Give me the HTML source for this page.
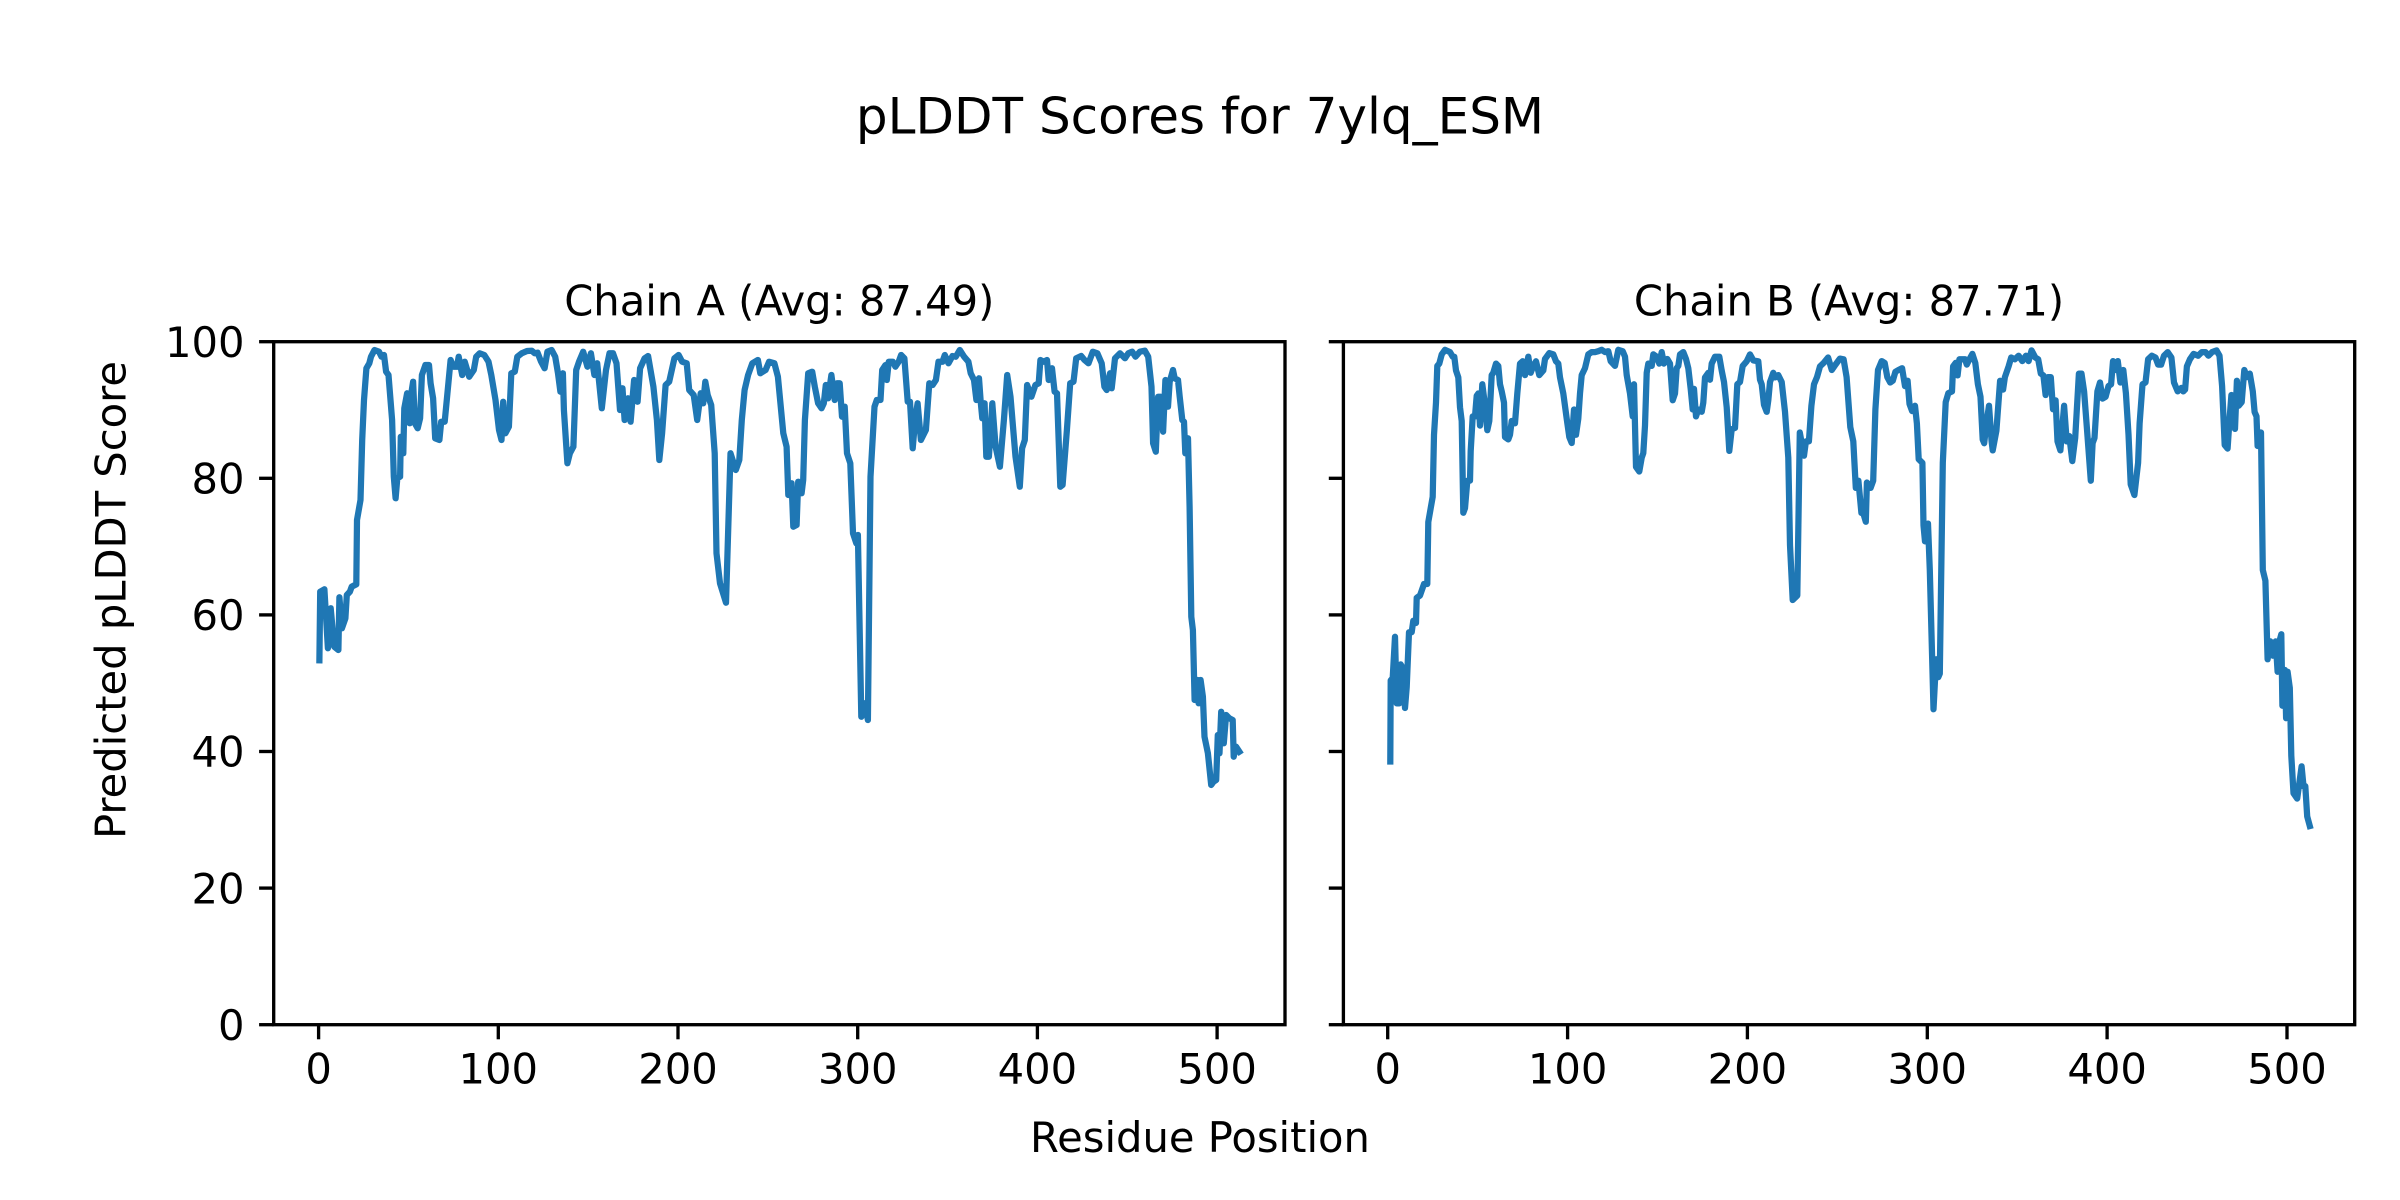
<!DOCTYPE html>
<html>
<head>
<meta charset="utf-8">
<style>
html,body{margin:0;padding:0;background:#fff;}
svg{display:block;}
text{font-family:"DejaVu Sans","Liberation Sans",sans-serif;fill:#000;}
</style>
</head>
<body>
<svg width="2400" height="1200" viewBox="0 0 2400 1200" xmlns="http://www.w3.org/2000/svg">
<rect x="0" y="0" width="2400" height="1200" fill="#fff"/>

<!-- Suptitle -->
<text x="1200" y="133.3" font-size="50" text-anchor="middle">pLDDT Scores for 7ylq_ESM</text>

<!-- Subplot titles -->
<text x="779.3" y="315.7" font-size="41.67" text-anchor="middle">Chain A (Avg: 87.49)</text>
<text x="1849" y="315.7" font-size="41.67" text-anchor="middle">Chain B (Avg: 87.71)</text>

<!-- Series Chain A -->
<polyline fill="none" stroke="#1f77b4" stroke-width="6.25" stroke-linejoin="round" stroke-linecap="square" points="319.4,660.3 320.2,591.7 324.4,589.3 327.9,648.3 330.7,608.3 334.2,646.7 338.4,650 339.4,597.3 341.9,628.3 345.4,618.3 346.8,595 349.9,591.7 351.7,586.7 356.3,584.3 357,520 360.5,500 362.2,440 364,400 366.4,368.3 369.3,363.3 371,356.7 374.5,350 379,351.7 381.5,356.7 384,355 386.1,371.7 388.5,375 392.1,420 393.8,476.7 395.6,498.3 397.3,478.3 400.1,476.7 400.8,436.7 403.3,453.3 404.3,408.3 407.1,393.3 409.6,423.3 411.3,393.3 413.1,381.7 414.9,423.3 417.7,428.3 420.1,418.3 421.9,375 425.4,365 429,365 430.6,383.3 433.1,398.3 435.2,438.3 439.4,440 441.2,421.7 444.7,421.7 447.1,396.7 450.6,360 453.4,366.7 457,366.7 458.7,356.7 462.2,375 464.7,361.7 469.2,376.7 473.8,370 476.2,356.7 479.7,353.3 484.3,355 488.5,361.7 491.3,375 495.5,400 499,430 501.5,440 503.2,401.7 505.4,433.3 508.9,426.7 511.3,373.3 514.8,371.7 517.3,356.7 521.8,353.3 527.1,351 531.7,350.7 534.8,353.3 537.6,352.7 541.1,361.7 544.6,368.3 547.4,351.7 551.6,350 555.2,356.7 558,373.3 560.4,391.7 562.9,373.3 563.9,410 567.4,463.3 569.9,453.3 573.4,446.7 576.2,370 579,361.7 583.2,351.7 587.4,366.7 590.9,353.3 594.4,375 597.2,363.3 601.8,408.3 606,370 609.5,353.3 613,353.3 616.5,363.3 620,410 622.5,388.3 624.6,420 628.1,398.3 630.6,421.7 634.1,380 637.6,401.7 640.1,368.3 644.6,358.3 648.1,356 653.4,386.7 656.9,420 659.3,460 662.1,433.3 665.6,385 669.2,381.7 674.4,358.3 678.6,355 682.1,361.7 686.7,363.3 689.2,390 693.7,395 697.2,420 700.7,393.3 703.2,403.3 705.3,381.7 707.7,395 711.2,405 714.7,453.3 716.5,553.3 720,583.3 726,602.7 730.5,453.3 735.8,470 739.3,460 741.8,420 744.6,390 748.1,375 752.3,363.3 757.9,360 760.3,373.3 765.6,370 769.1,361.7 774.4,363.3 777.9,376.7 783.3,433.3 786.6,446.7 788.3,495 791.6,483.3 793.3,526.7 796.6,525 798.2,481.7 801.6,493.3 803.2,480 804.9,420 808.2,373.3 812.2,371.7 814.8,386.7 818.1,403.3 821.5,408.3 823.8,403.3 825.8,385 828.1,398.3 831.4,375 834.7,400 837,383.3 839.7,383.3 842,416.7 844.7,406.7 847,453.3 850.3,463.3 853,533.3 856.3,543.3 857.9,535 861.3,716.7 864.6,703.3 867.9,720 870.5,476.7 874.5,406.7 876.8,400 880.5,400 882.2,370 885.5,365 886.8,380 888.8,361.7 892.8,361.7 895.4,366.7 898.7,361.7 901.1,355 904.4,358.3 907.7,401.7 910,401.7 912.7,448.3 915.3,418.3 917.6,403.3 920.9,440 925.9,430 929.3,383.3 932.6,385 935.9,380 938.5,361.7 942.5,361.7 944.8,355 948.5,363.3 952.5,356 955.8,356.7 959.8,350 964.1,356.7 968.4,361.7 970.7,373.3 974,380 976.4,400 979,378.3 980.7,401.7 982.3,418.3 984.6,403.3 986.3,456.7 988.9,456.7 992.3,403.3 995.6,446.7 999.9,466.7 1003.9,420 1007.2,375 1010.5,396.7 1015.5,456.7 1019.8,486.7 1022.1,448.3 1024.8,440 1027.1,385 1031.4,396.7 1035.4,385 1038.7,383.3 1040.4,360 1043.7,361.7 1047,360 1048.7,380 1052,368.3 1054.6,391.7 1057,393.3 1060.3,486.7 1062.6,485 1066.9,430 1070.2,383.3 1073.5,381.7 1076.2,358.3 1081.2,356 1084.5,360 1088.5,363.3 1092.8,351.7 1097.4,353.3 1101.7,363.3 1104.4,386.7 1106.7,390 1110,373.3 1111.7,388.3 1115,358.3 1120,353.3 1125,358.3 1128.3,353.3 1132.2,351.7 1135.5,356.7 1139.9,351.7 1144.8,350.7 1148.2,356.7 1151.5,386.7 1153.1,443.3 1155.8,451.7 1158.1,396.7 1160.8,396.7 1163.1,431.7 1165.4,380 1168,406.7 1169.7,381.7 1173,370 1174.7,378.3 1178,380 1179.7,396.7 1182.3,420 1184,421.7 1185.3,453.3 1188,438.3 1189.6,506.7 1191.3,616.7 1192.9,630 1194.6,700 1197.3,680 1198.6,703.3 1200.6,680 1202.9,696.7 1204.5,736.7 1207.9,753.3 1211.2,785 1213.5,781.7 1216.2,780 1217.8,735 1219.5,753.3 1221.2,711.7 1223.8,743.3 1226.1,715 1229.4,718.3 1232.7,720 1233.7,756.7 1236.1,746.7 1239.4,751.7"/>

<!-- Series Chain B -->
<polyline fill="none" stroke="#1f77b4" stroke-width="6.25" stroke-linejoin="round" stroke-linecap="square" points="1390.3,761.5 1390.7,680.4 1392.7,678.1 1395,636.8 1396.7,703.4 1399.3,703.4 1400.7,664.4 1403.3,668.9 1405,708 1406.7,687.3 1409,632.2 1411.7,632.2 1413.3,620.7 1416,623 1416.7,597.8 1420,595.5 1424,584 1427.3,584 1428.3,522 1430.7,508.2 1432.7,496.8 1434,434.8 1436,402.6 1437.3,365.9 1439.3,363.6 1441.7,354.4 1445,349.8 1450,352.1 1452.7,356.7 1454.3,356.7 1456,370.5 1458.3,377.4 1460,407.2 1461.7,421 1463.3,512.8 1465,508.2 1467.3,480.7 1470,480.7 1470.7,450.9 1472.7,416.4 1475,416.4 1476.7,395.8 1478.3,393.5 1480,425.6 1482.3,384.3 1485,405 1487.3,430.2 1489.3,421 1491.7,375.1 1493.3,372.8 1496,363.6 1498.3,365.9 1500,384.3 1501.7,391.2 1504,402.6 1505,437.1 1508.3,439.4 1510,434.8 1511.7,421 1515,423.3 1517.3,393.5 1520,363.6 1522.7,361.3 1525,375.1 1528.3,356.7 1530.7,372.8 1533.3,365.9 1536,361.3 1539.3,375.1 1543.3,370.5 1545,359 1549.3,353.1 1553.3,354.4 1556,361.3 1558.3,363.6 1560,377.4 1563.3,393.5 1566.7,418.7 1569.3,437.1 1571.7,443 1574,409.5 1576,434.8 1578.3,418.7 1580,393.5 1581.7,375.1 1585,368.2 1588.3,354.4 1591.7,352.1 1595,352.1 1598.3,351.2 1601.7,349.8 1605,352.1 1608.3,351.2 1610.7,361.3 1615,365.9 1618.3,349.8 1622.7,351.2 1625,356.7 1626.7,375.1 1630,393.5 1632.7,416.4 1634,384.3 1636,466.9 1639.3,471.5 1641.7,457.7 1643.3,453.1 1645,425.6 1646.7,372.8 1648.3,363.6 1651.7,365.9 1653.3,354.4 1656.7,356.7 1659.3,363.6 1661.7,352.1 1664,363.6 1667.3,359 1670,363.6 1672.7,400.3 1675,393.5 1676.7,368.2 1678.3,365.9 1680,354.4 1683.3,352.1 1686,359 1688.3,368.2 1690.7,388.9 1692.7,409.5 1694,388.9 1696,416.4 1698.3,409.5 1701.7,411.8 1703.3,402.6 1705,377.4 1708.3,372.8 1710,379.7 1711.7,363.6 1715,356.7 1719.3,356.7 1721.7,370.5 1724,382 1726.7,407.2 1729.3,450.9 1731.7,429.3 1735,427.9 1737.3,384.3 1740,382 1742.7,365.9 1746.7,361.3 1750,354.4 1753.3,360.4 1758.3,361.3 1760,379.7 1761.7,384.3 1764,404.9 1766.7,411.8 1768.3,400.3 1770,382 1773.3,372.8 1775,377.4 1778.3,375.1 1781.7,382 1785,411.8 1788.3,457.7 1790,545 1792.7,600 1795,597.8 1797.3,595.5 1799.8,432.5 1804,455.7 1805.9,441.4 1808.9,441.4 1811.4,405.7 1814,384.3 1817,377.1 1820,366.4 1823.7,362.9 1828.1,357.5 1831.8,370 1835.5,364.6 1839.9,358.6 1843.6,359.3 1846.6,377.1 1850.3,427.1 1853.3,441.4 1855.8,487.9 1858.4,480.7 1861.4,512.9 1863.2,512.9 1865.8,521.8 1866.9,482.5 1870.6,487.9 1873.2,480.7 1875.4,409.3 1878,370 1881.7,361.1 1884.7,362.9 1887.3,377.1 1890.2,382.5 1892.8,380.7 1895.4,371.8 1898.4,370 1902.1,368.2 1905,386.1 1907.6,380.7 1909.5,403.9 1912.1,411.1 1915,405.7 1916.9,423.6 1918.7,459.3 1922.4,462.9 1923.5,525.4 1925,541.4 1928,523.6 1929.8,570 1933.5,709.3 1936.1,659.3 1938.3,677.1 1939.8,673.6 1942.8,462.9 1945.7,402.1 1948.3,393.2 1952,391.4 1953.1,366.4 1955.7,362.9 1957.6,375.4 1959.4,359.3 1965,359.3 1966.8,364.6 1969.4,359.3 1972.4,353.9 1975.3,362.9 1977.9,384.3 1980.5,396.8 1982.7,439.6 1984.2,443.2 1986.4,423.6 1989,405.7 1991.6,441.4 1992.7,450.4 1996.4,430.7 2000.1,380.7 2003.1,389.6 2004.9,377.1 2008.6,366.4 2011.2,357.5 2014.9,359.3 2018.6,355.7 2022.3,361.1 2026,355.7 2028.6,361.1 2031.6,350.4 2035.3,357.5 2038.2,359.3 2040.8,373.6 2043.4,375.4 2045.6,395 2048.2,377.1 2050.8,377.1 2053,409.3 2055.6,400.4 2057.5,441.4 2060.4,450.4 2064.1,405.7 2066.7,441.4 2069.3,436.1 2072.3,461.1 2075.2,437.9 2078.9,373.6 2081.5,373.6 2084.1,391.4 2087.1,430.7 2090.8,480.7 2092.6,443.2 2094.5,437.9 2097.4,391.4 2100,382.5 2102.6,398.6 2105.6,396.8 2108.5,386.1 2111.1,384.3 2113,361.1 2115.9,370 2117.8,361.1 2120.4,382.5 2123.3,370 2125.9,393.2 2128.5,434.3 2130.7,484.3 2134.4,495 2138.1,462.9 2139.6,423.6 2142.5,384.3 2145.5,382.5 2148.1,359.3 2151.8,355.7 2155.5,357.5 2158.1,364.6 2161.1,364.6 2164,355.7 2167.7,352.1 2171.4,357.5 2174,382.5 2177.7,391.4 2181.4,387.9 2183.3,391.4 2185.1,389.6 2186.9,366.4 2189.9,359.3 2193.6,353.9 2198.1,355.7 2201.8,352.1 2205.5,352.1 2208.4,355.7 2212.1,352.1 2216.5,350.4 2219.5,355.7 2222.1,386.1 2224.7,445 2227.6,448.6 2229.5,420 2231.4,395 2233.2,402.1 2235,428.9 2236.9,380.7 2238.7,405.7 2241.7,402.1 2244.3,370 2246.9,377.1 2249.8,373.6 2252.8,391.4 2254.6,412 2256.5,416.4 2257.6,446 2259.5,432.5 2261,432.5 2262.8,570 2265.4,580.7 2267.6,659.3 2270.2,641.4 2272.8,655.7 2275.7,641.4 2277.6,671.8 2279.4,641.4 2281.3,634.3 2282.4,705.7 2285,670 2286.1,718.2 2287.6,671.8 2289.8,687.9 2291.3,755.7 2293.5,793.2 2297.2,798.6 2301.6,766.4 2303.5,786.1 2305.3,786.1 2307.2,816.4 2309.8,826"/>

<!-- Axes frames -->
<rect x="273.7" y="341.7" width="1011.3" height="683" fill="none" stroke="#000" stroke-width="3.33" stroke-linecap="square"/>
<rect x="1343.4" y="341.7" width="1011.3" height="683" fill="none" stroke="#000" stroke-width="3.33" stroke-linecap="square"/>

<!-- Ticks -->
<g stroke="#000" stroke-width="3.33">
  <line x1="259.1" y1="341.7" x2="273.7" y2="341.7"/>
  <line x1="259.1" y1="478.3" x2="273.7" y2="478.3"/>
  <line x1="259.1" y1="614.9" x2="273.7" y2="614.9"/>
  <line x1="259.1" y1="751.5" x2="273.7" y2="751.5"/>
  <line x1="259.1" y1="888.1" x2="273.7" y2="888.1"/>
  <line x1="259.1" y1="1024.7" x2="273.7" y2="1024.7"/>
  <line x1="1328.8" y1="341.7" x2="1343.4" y2="341.7"/>
  <line x1="1328.8" y1="478.3" x2="1343.4" y2="478.3"/>
  <line x1="1328.8" y1="614.9" x2="1343.4" y2="614.9"/>
  <line x1="1328.8" y1="751.5" x2="1343.4" y2="751.5"/>
  <line x1="1328.8" y1="888.1" x2="1343.4" y2="888.1"/>
  <line x1="1328.8" y1="1024.7" x2="1343.4" y2="1024.7"/>
  <line x1="318.6" y1="1024.7" x2="318.6" y2="1039.3"/>
  <line x1="498.3" y1="1024.7" x2="498.3" y2="1039.3"/>
  <line x1="678.0" y1="1024.7" x2="678.0" y2="1039.3"/>
  <line x1="857.7" y1="1024.7" x2="857.7" y2="1039.3"/>
  <line x1="1037.4" y1="1024.7" x2="1037.4" y2="1039.3"/>
  <line x1="1217.1" y1="1024.7" x2="1217.1" y2="1039.3"/>
  <line x1="1387.7" y1="1024.7" x2="1387.7" y2="1039.3"/>
  <line x1="1567.6" y1="1024.7" x2="1567.6" y2="1039.3"/>
  <line x1="1747.4" y1="1024.7" x2="1747.4" y2="1039.3"/>
  <line x1="1927.3" y1="1024.7" x2="1927.3" y2="1039.3"/>
  <line x1="2107.1" y1="1024.7" x2="2107.1" y2="1039.3"/>
  <line x1="2287.0" y1="1024.7" x2="2287.0" y2="1039.3"/>
</g>

<!-- Y tick labels -->
<g font-size="41.67" text-anchor="end">
  <text x="244.5" y="356.9">100</text>
  <text x="244.5" y="493.5">80</text>
  <text x="244.5" y="630.1">60</text>
  <text x="244.5" y="766.7">40</text>
  <text x="244.5" y="903.3">20</text>
  <text x="244.5" y="1039.9">0</text>
</g>

<!-- X tick labels -->
<g font-size="41.67" text-anchor="middle">
  <text x="318.6" y="1083.4">0</text>
  <text x="498.3" y="1083.4">100</text>
  <text x="678.0" y="1083.4">200</text>
  <text x="857.7" y="1083.4">300</text>
  <text x="1037.4" y="1083.4">400</text>
  <text x="1217.1" y="1083.4">500</text>
  <text x="1387.7" y="1083.4">0</text>
  <text x="1567.6" y="1083.4">100</text>
  <text x="1747.4" y="1083.4">200</text>
  <text x="1927.3" y="1083.4">300</text>
  <text x="2107.1" y="1083.4">400</text>
  <text x="2287.0" y="1083.4">500</text>
</g>

<!-- Axis labels -->
<text x="1200" y="1152" font-size="41.67" text-anchor="middle">Residue Position</text>
<text transform="translate(125.4,600) rotate(-90)" font-size="41.67" text-anchor="middle">Predicted pLDDT Score</text>
</svg>
</body>
</html>
